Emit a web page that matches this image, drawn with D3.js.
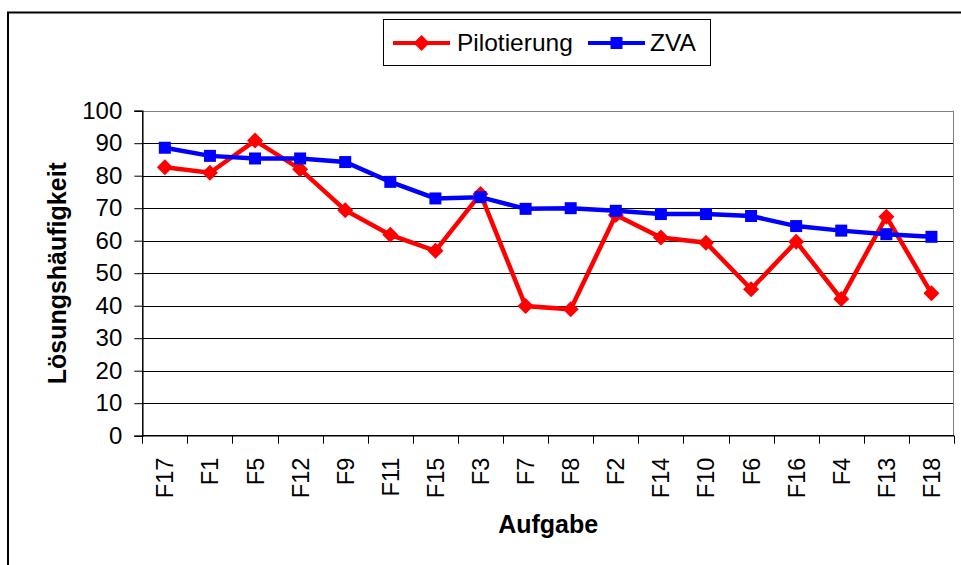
<!DOCTYPE html>
<html>
<head>
<meta charset="utf-8">
<script src="https://cdn.jsdelivr.net/npm/d3@7"></script>
<style>
  html, body { margin: 0; padding: 0; background: #fff; }
  svg { display: block; font-family: "Liberation Sans", Arial, sans-serif; }
</style>
</head>
<body>
<script>
// Data
const categories = ["F17", "F1", "F5", "F12", "F9", "F11", "F15", "F3", "F7", "F8",
                    "F2", "F14", "F10", "F6", "F16", "F4", "F13", "F18"];
const pilotierung = [82.6, 80.9, 90.8, 82.0, 69.4, 61.8, 56.9, 74.4, 39.9, 38.9,
                     67.9, 61.0, 59.4, 45.1, 59.7, 42.1, 67.4, 43.8];
const zva = [88.6, 86.1, 85.3, 85.3, 84.2, 78.1, 73.0, 73.4, 69.8, 70.0,
             69.2, 68.2, 68.2, 67.6, 64.5, 63.1, 62.0, 61.2];
const yTicks = [0, 10, 20, 30, 40, 50, 60, 70, 80, 90, 100];

const series = [
    { name: "Pilotierung", values: pilotierung, color: "#ff0000", marker: "diamond" },
    { name: "ZVA", values: zva, color: "#0000ff", marker: "square" }
];

const width = 961, height = 565;
const plot = { left: 142.3, right: 954, top: 110.7, bottom: 435.7 };

const svg = d3.select("body").append("svg")
    .attr("width", width)
    .attr("height", height);

// Outer chart frame (cut off at right and bottom)
svg.append("path")
    .attr("d", `M8,${height + 5}V12.5H${width + 5}`)
    .attr("fill", "none")
    .attr("stroke", "#000")
    .attr("stroke-width", 2);

// Scales
const x = d3.scaleBand()
    .domain(categories)
    .range([plot.left, plot.right]);

const y = d3.scaleLinear()
    .domain([0, 100])
    .range([plot.bottom, plot.top]);

// Gridlines
svg.append("g")
    .selectAll("line")
    .data(yTicks.filter(d => d > 0))
    .join("line")
    .attr("x1", plot.left)
    .attr("x2", plot.right)
    .attr("y1", d => Math.round(y(d)) + 0.5)
    .attr("y2", d => Math.round(y(d)) + 0.5)
    .attr("stroke", d => d === 100 ? "#808080" : "#000")
    .attr("stroke-width", 1);

// Plot area right border
svg.append("line")
    .attr("x1", plot.right - 0.5).attr("x2", plot.right - 0.5)
    .attr("y1", plot.top).attr("y2", plot.bottom)
    .attr("stroke", "#808080");

// Y axis
const yAxis = svg.append("g")
    .attr("transform", `translate(${plot.left},0)`)
    .call(d3.axisLeft(y).tickValues(yTicks).tickSize(8).tickPadding(12));
yAxis.select(".domain").attr("stroke", "#000").attr("stroke-width", 1.5);
yAxis.selectAll(".tick line").attr("stroke", "#000");
yAxis.selectAll("text")
    .attr("font-size", 24)
    .attr("font-family", "Liberation Sans, Arial, sans-serif")
    .attr("fill", "#000");

// X axis
const boundaries = categories.map(c => x(c)).concat([plot.right]);
svg.append("line")
    .attr("x1", plot.left).attr("x2", plot.right)
    .attr("y1", plot.bottom).attr("y2", plot.bottom)
    .attr("stroke", "#000").attr("stroke-width", 1.5);
svg.append("g")
    .selectAll("line")
    .data(boundaries)
    .join("line")
    .attr("x1", d => Math.round(d) + 0.5)
    .attr("x2", d => Math.round(d) + 0.5)
    .attr("y1", plot.bottom)
    .attr("y2", plot.bottom + 8)
    .attr("stroke", "#000");

svg.append("g")
    .selectAll("text")
    .data(categories)
    .join("text")
    .attr("transform", d => `translate(${x(d) + x.bandwidth() / 2 + 8.5},${plot.bottom + 22}) rotate(-90)`)
    .attr("text-anchor", "end")
    .attr("font-size", 23.5)
    .attr("fill", "#000")
    .text(d => d);

// Axis titles
svg.append("text")
    .attr("x", (plot.left + plot.right) / 2)
    .attr("y", 533)
    .attr("text-anchor", "middle")
    .attr("font-size", 25)
    .attr("font-weight", "bold")
    .text("Aufgabe");

svg.append("text")
    .attr("transform", `translate(66,${(plot.top + plot.bottom) / 2}) rotate(-90)`)
    .attr("text-anchor", "middle")
    .attr("font-size", 25)
    .attr("font-weight", "bold")
    .text("Lösungshäufigkeit");

// Markers
function drawMarker(g, type, color) {
    if (type === "diamond") {
        g.append("path")
            .attr("d", "M0,-8L8,0L0,8L-8,0Z")
            .attr("fill", color);
    } else {
        g.append("rect")
            .attr("x", -6).attr("y", -6)
            .attr("width", 12).attr("height", 12)
            .attr("fill", color);
    }
}

const line = d3.line()
    .x((d, i) => x(categories[i]) + x.bandwidth() / 2)
    .y(d => y(d));

series.forEach(s => {
    const g = svg.append("g");
    g.append("path")
        .datum(s.values)
        .attr("d", line)
        .attr("fill", "none")
        .attr("stroke", s.color)
        .attr("stroke-width", 4.5)
        .attr("stroke-linejoin", "miter");
    g.selectAll("g.m")
        .data(s.values)
        .join("g")
        .attr("class", "m")
        .attr("transform", (d, i) => `translate(${x(categories[i]) + x.bandwidth() / 2},${y(d)})`)
        .each(function() { drawMarker(d3.select(this), s.marker, s.color); });
});

// Legend
const legend = svg.append("g");
legend.append("rect")
    .attr("x", 383.5).attr("y", 19.5)
    .attr("width", 327).attr("height", 46)
    .attr("fill", "#fff")
    .attr("stroke", "#000")
    .attr("stroke-width", 1);

const legendItems = [
    { s: series[0], x0: 393, x1: 450, tx: 457 },
    { s: series[1], x0: 588, x1: 645, tx: 650 }
];
legendItems.forEach(it => {
    legend.append("line")
        .attr("x1", it.x0).attr("x2", it.x1)
        .attr("y1", 43).attr("y2", 43)
        .attr("stroke", it.s.color)
        .attr("stroke-width", 4);
    const m = legend.append("g").attr("transform", `translate(${(it.x0 + it.x1) / 2},43)`);
    drawMarker(m, it.s.marker, it.s.color);
    legend.append("text")
        .attr("x", it.tx)
        .attr("y", 51)
        .attr("font-size", 24.5)
        .attr("fill", "#000")
        .text(it.s.name);
});
</script>
</body>
</html>
